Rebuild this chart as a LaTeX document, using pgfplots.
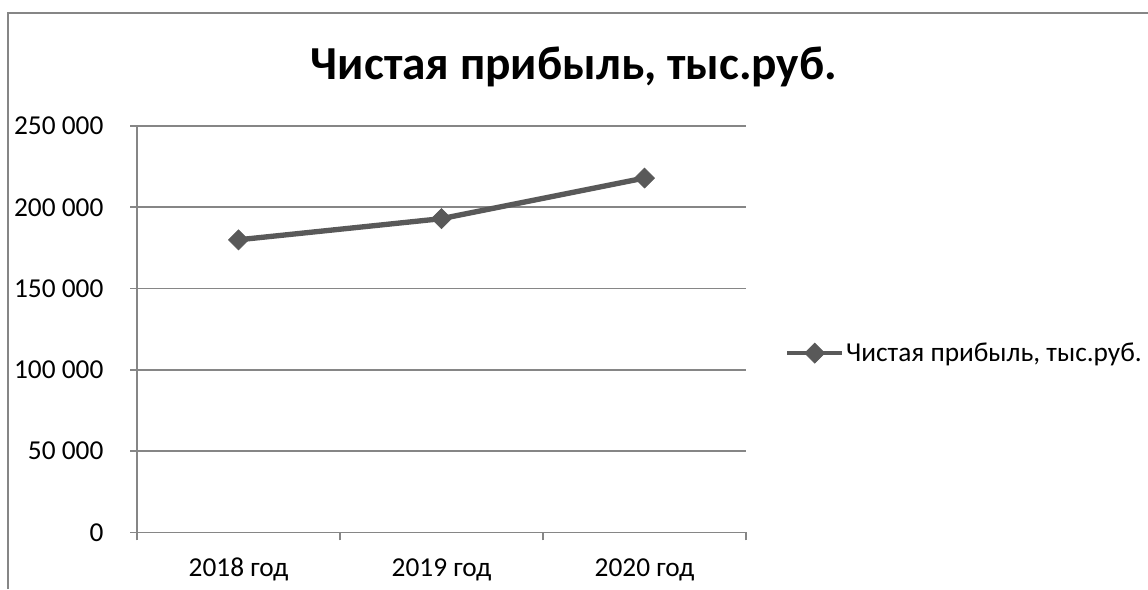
\documentclass[border=0pt]{standalone}
\usepackage{fontspec}
\setmainfont{Carlito}
\usepackage{pgfplots}
\pgfplotsset{compat=1.18}
\definecolor{linegray}{HTML}{595959}
\definecolor{axgray}{HTML}{868686}
\begin{document}
\begin{tikzpicture}[x=0.75pt,y=0.75pt]
\useasboundingbox (0,0) rectangle (1148,589);
\draw[axgray, line width=1.5pt] (8,0) -- (8,576) -- (1148,576);
\node[font=\bfseries\fontsize{35.5}{42}\selectfont, anchor=center] at (574,522) {Чистая прибыль, тыс.руб.};
\coordinate (O) at (137,56.7);
\begin{axis}[
  at={(O)}, anchor=south west,
  scale only axis, width=456.75pt, height=304.7pt,
  xmin=-0.5, xmax=2.5, ymin=0, ymax=250000,
  scaled y ticks=false,
  axis lines=left, axis line style={-, axgray, line width=1.2pt},
  xtick={0,1,2}, xticklabels={2018 год,2019 год,2020 год},
  major x tick style={draw=none},
  minor xtick={-0.5,0.5,1.5,2.5},
  minor x tick style={axgray, line width=1.2pt},
  minor tick length=6pt,
  ytick={0,50000,100000,150000,200000,250000},
  yticklabels={0,50 000,100 000,150 000,200 000,250 000},
  major y tick style={axgray, line width=1.2pt},
  major tick length=5pt,
  tick align=outside,
  ymajorgrids, major grid style={axgray, line width=1.2pt},
  ticklabel style={font=\fontsize{20.5}{24}\selectfont},
  yticklabel style={anchor=east, inner sep=0pt, xshift=-20pt},
  xticklabel style={anchor=base, inner sep=0pt, yshift=-28pt},
  clip=false,
  legend style={at={(1.064,0.441)}, anchor=west, draw=none, fill=none, inner sep=0pt,
    font=\fontsize{20.5}{24}\selectfont, nodes={inner sep=1.5pt}},
  legend cell align=left,
  legend image code/.code={\draw[#1, line width=3pt, mark repeat=2, mark phase=2] plot coordinates {(0pt,0pt) (20.6pt,0pt) (41.2pt,0pt)};},
]
\addplot[linegray, line width=4pt, mark=square*, mark size=5.3pt,
  mark options={solid, line width=0.5pt, rotate=45, fill=linegray}]
  coordinates {(0,180000) (1,193000) (2,218000)};
\addlegendentry{Чистая прибыль, тыс.руб.}
\end{axis}
\end{tikzpicture}
\end{document}
